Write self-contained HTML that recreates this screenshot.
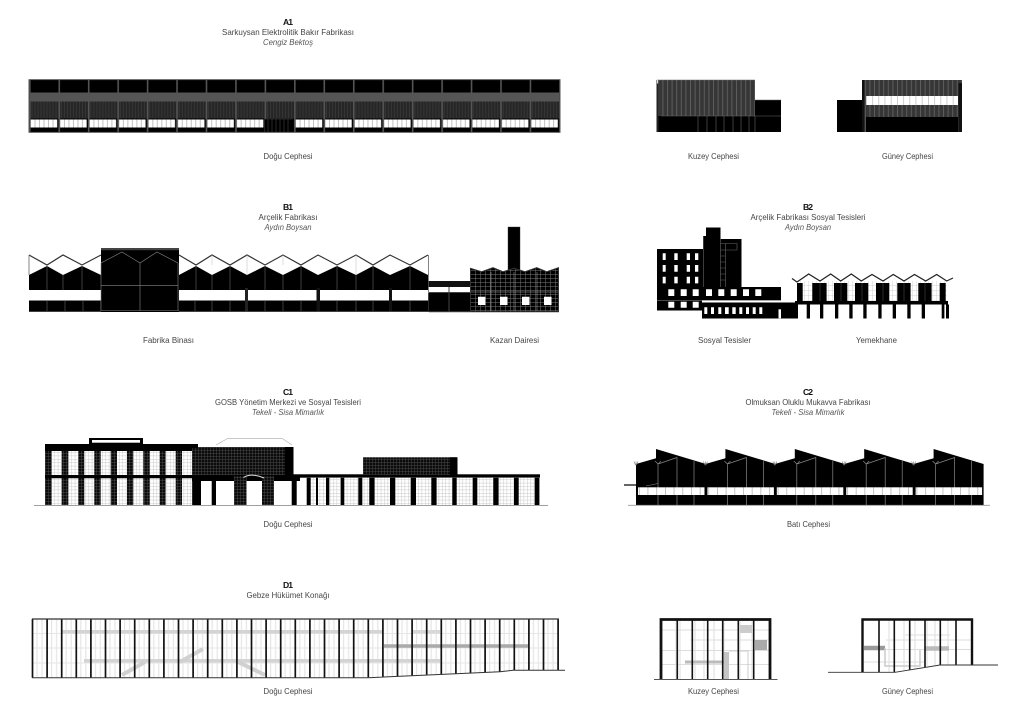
<!DOCTYPE html>
<html><head><meta charset="utf-8"><title>Cepheler</title>
<style>html,body{margin:0;padding:0;background:#fff}svg{display:block}
text{font-family:"Liberation Sans","DejaVu Sans",sans-serif;font-size:8.6px;fill:#444;text-anchor:middle}
.b{font-weight:bold;fill:#111}.i{font-style:italic;fill:#555}</style></head>
<body>
<svg xmlns="http://www.w3.org/2000/svg" width="1024" height="722" viewBox="0 0 1024 722">
<defs>
<pattern id="a1" patternUnits="userSpaceOnUse" x="29" y="80" width="29.45" height="52">
 <rect width="29.45" height="52" fill="#000"/>
 <rect y="12.5" width="29.45" height="9" fill="#555"/>
 <rect y="21.5" width="29.45" height="17" fill="#262626"/>
 <path d="M3 21.5V38M6 21.5V38M9 21.5V38M12 21.5V38M15 21.5V38M18 21.5V38M21 21.5V38M24 21.5V38M27 21.5V38" stroke="#3c3c3c" stroke-width=".7"/>
 <rect x="1.6" y="39.5" width="26.6" height="8" fill="#fff"/>
 <path d="M6 39.5v8M10.5 39.5v8M15 39.5v8M19.5 39.5v8M24 39.5v8" stroke="#999" stroke-width=".6"/>
 <rect x="0" width="1.6" height="52" fill="#555"/>
</pattern>
<pattern id="stripe" patternUnits="userSpaceOnUse" width="4.6" height="10"><rect width="4.6" height="10" fill="#363636"/><rect width="1" height="10" fill="#5e5e5e"/></pattern>
<pattern id="tick" patternUnits="userSpaceOnUse" x="866" width="6.2" height="10"><rect width="6.2" height="10" fill="#fff"/><rect width=".7" height="10" fill="#bbb"/></pattern>
<pattern id="brick" patternUnits="userSpaceOnUse" x="470" y="270" width="5" height="4"><rect width="5" height="4" fill="#000"/><path d="M0 .3H5M.3 0V4" stroke="#777" stroke-width=".5"/></pattern>
<pattern id="dgrid" patternUnits="userSpaceOnUse" width="3" height="3"><rect width="3" height="3" fill="#0b0b0b"/><path d="M0 .3H3M.3 0V3" stroke="#555" stroke-width=".4"/></pattern>
<pattern id="lgrid" patternUnits="userSpaceOnUse" width="3.4" height="3.4"><rect width="3.4" height="3.4" fill="#fff"/><path d="M0 .3H3.4M.3 0V3.4" stroke="#c4c4c4" stroke-width=".45"/></pattern>
<pattern id="yg" patternUnits="userSpaceOnUse" width="4" height="5"><rect width="4" height="5" fill="#fff"/><path d="M0 .3H4M.3 0V5" stroke="#ccc" stroke-width=".4"/></pattern>
<pattern id="c2tick" patternUnits="userSpaceOnUse" x="638" width="8.7" height="10"><rect width="8.7" height="10" fill="#fff"/><rect width=".7" height="10" fill="#aaa"/></pattern>
<pattern id="dv" patternUnits="userSpaceOnUse" x="32.5" width="14.6" height="10"><path d="M4.5 0V10M9.5 0V10" stroke="#e6e6e6" stroke-width="1.2"/></pattern>
<g id="saw">
 <polygon points="0,15 20,9.3 20,0 70,15 70,56 0,56" fill="#000"/>
 <path d="M22 15V56M19 12L22 15L25 12M22 15L41 8.5V56M58 12V56" stroke="#888" stroke-width=".7" fill="none"/>
 <path d="M0 16V12.5M-2 12.5L-.5 16H.5L2 12.5" stroke="#777" stroke-width=".6" fill="none"/>
 <rect x="2" y="38.3" width="66.5" height="7.7" fill="url(#c2tick)"/>
</g>
</defs>

<!-- text -->
<text x="288" y="25" class="b" textLength="10">A1</text>
<text x="288" y="35" textLength="132" lengthAdjust="spacingAndGlyphs">Sarkuysan Elektrolitik Bakır Fabrikası</text>
<text x="288" y="45" class="i" textLength="50" lengthAdjust="spacingAndGlyphs">Cengiz Bektoş</text>
<text x="288" y="159" textLength="49" lengthAdjust="spacingAndGlyphs">Doğu Cephesi</text>
<text x="713.5" y="159" textLength="51" lengthAdjust="spacingAndGlyphs">Kuzey Cephesi</text>
<text x="907.5" y="159" textLength="51" lengthAdjust="spacingAndGlyphs">Güney Cephesi</text>
<text x="288" y="210" class="b" textLength="10">B1</text>
<text x="288" y="220" textLength="59" lengthAdjust="spacingAndGlyphs">Arçelik Fabrikası</text>
<text x="288" y="230" class="i" textLength="47" lengthAdjust="spacingAndGlyphs">Aydın Boysan</text>
<text x="808" y="210" class="b" textLength="10">B2</text>
<text x="808" y="220" textLength="115" lengthAdjust="spacingAndGlyphs">Arçelik Fabrikası Sosyal Tesisleri</text>
<text x="808" y="230" class="i" textLength="46" lengthAdjust="spacingAndGlyphs">Aydın Boysan</text>
<text x="168.5" y="343" textLength="51" lengthAdjust="spacingAndGlyphs">Fabrika Binası</text>
<text x="514.5" y="343" textLength="49" lengthAdjust="spacingAndGlyphs">Kazan Dairesi</text>
<text x="724.5" y="343" textLength="53" lengthAdjust="spacingAndGlyphs">Sosyal Tesisler</text>
<text x="876.5" y="343" textLength="41" lengthAdjust="spacingAndGlyphs">Yemekhane</text>
<text x="288" y="395" class="b" textLength="10">C1</text>
<text x="288" y="405" textLength="146" lengthAdjust="spacingAndGlyphs">GOSB Yönetim Merkezi ve Sosyal Tesisleri</text>
<text x="288" y="415" class="i" textLength="72" lengthAdjust="spacingAndGlyphs">Tekeli - Sisa Mimarlık</text>
<text x="808" y="395" class="b" textLength="10">C2</text>
<text x="808" y="405" textLength="125" lengthAdjust="spacingAndGlyphs">Olmuksan Oluklu Mukavva Fabrikası</text>
<text x="808" y="415" class="i" textLength="73" lengthAdjust="spacingAndGlyphs">Tekeli - Sisa Mimarlık</text>
<text x="288" y="527" textLength="49" lengthAdjust="spacingAndGlyphs">Doğu Cephesi</text>
<text x="808.5" y="527" textLength="43" lengthAdjust="spacingAndGlyphs">Batı Cephesi</text>
<text x="288" y="588" class="b" textLength="10">D1</text>
<text x="288" y="598" textLength="83" lengthAdjust="spacingAndGlyphs">Gebze Hükümet Konağı</text>
<text x="288" y="694" textLength="49" lengthAdjust="spacingAndGlyphs">Doğu Cephesi</text>
<text x="713.5" y="694" textLength="51" lengthAdjust="spacingAndGlyphs">Kuzey Cephesi</text>
<text x="907.5" y="694" textLength="51" lengthAdjust="spacingAndGlyphs">Güney Cephesi</text>

<!-- A1 -->
<rect x="29" y="80" width="531" height="52" fill="url(#a1)"/>
<rect x="265" y="119" width="28" height="13" fill="#000"/>
<path d="M268 119v13M272 119v13M276 119v13M280 119v13M284 119v13M288 119v13M265 119H293" stroke="#444" stroke-width=".6"/>
<rect x="29" y="79.7" width="531" height="52.6" fill="none" stroke="#444" stroke-width=".9"/>

<!-- A Kuzey -->
<rect x="657" y="80" width="98" height="36" fill="url(#stripe)"/>
<rect x="657" y="116" width="124" height="16" fill="#000"/>
<rect x="755" y="100" width="26" height="32" fill="#000"/>
<path d="M657 80H755M755 100H781M661 116H781M698 116v16M707 116v16M716 116v16M724 116v16M733 116v16M741 116v16M749 116v16M755 116v16" stroke="#666" stroke-width=".6" fill="none"/>
<rect x="656.5" y="80" width="2" height="52" fill="#222"/>
<rect x="657" y="80" width="1.2" height="3.5" fill="#ddd"/>
<!-- A Guney -->
<rect x="837" y="100" width="26" height="32" fill="#000"/>
<rect x="863" y="80" width="99" height="52" fill="url(#stripe)"/>
<rect x="866" y="96" width="92" height="9" fill="url(#tick)"/>
<rect x="866" y="117" width="92" height="15" fill="#000"/>
<rect x="862" y="80" width="2.5" height="52" fill="#111"/>
<rect x="958.5" y="83" width="3.5" height="49" fill="#111"/>

<!-- B1 -->
<path d="M29 275L47 266L63 275L82 266L101 275V290H29ZM179 275L196 266L212 275L230 266L247 275L265 266L283 275L301 266L318 275L337 266L356 275L373 266L390 275L410 266L428 275V290H179Z" fill="#000"/>
<rect x="29" y="300.5" width="400" height="11" fill="#000"/>
<rect x="245" y="288" width="3" height="24" fill="#222"/><rect x="316.5" y="288" width="3.5" height="24" fill="#111"/><rect x="389" y="288" width="3" height="24" fill="#111"/>
<path d="M29 255L47 265L63 255L82 265L101 255M179 255L196 265L212 255L230 265L247 255L265 265L283 255L301 265L318 255L337 265L356 255L373 265L390 255L410 265L428 255" fill="none" stroke="#333" stroke-width="1.2"/>
<path d="M29 255V275M428.5 255V311" stroke="#666" stroke-width=".8"/>
<path d="M47 266V290M63 275V290M82 266V290M196 266V290M212 275V290M230 266V290M265 266V290M283 275V290M301 266V290M337 266V290M356 275V290M373 266V290M410 266V290M47 301V311M65 301V311M83 301V311M101 301V311M195 301V311M212 301V311M230 301V311M265 301V311M283 301V311M301 301V311M337 301V311M356 301V311M373 301V311M410 301V311" stroke="#777" stroke-width=".5"/>
<path d="M212 255V265M247 255V275M283 255V265M356 255V275" stroke="#bbb" stroke-width=".5"/>
<path d="M29 311.6H429" stroke="#555" stroke-width=".8"/>
<rect x="101" y="248" width="78" height="64" fill="#000"/>
<path d="M101 263L122 252L140 263L157 252L178 263M140 263V311M101 285.7H178M101 263V311M178 263V311" fill="none" stroke="#888" stroke-width=".6"/>
<rect x="101" y="248" width="78" height="2.2" fill="#444"/>
<path d="M101 310.7H179" stroke="#666" stroke-width=".7"/>
<!-- connector -->
<rect x="428.5" y="281" width="42" height="6" fill="#111"/>
<rect x="428.5" y="293" width="42" height="18.5" fill="#000"/>
<path d="M449 287V312M429 292.5H470M429 311.7H470" stroke="#444" stroke-width="1"/>
<!-- kazan -->
<rect x="508" y="227" width="12" height="43" fill="#000" stroke="#333" stroke-width=".4"/>
<polygon points="470.5,268.3 481.7,271.7 493,267.7 503,271.7 514,268.3 525,271.7 536.7,267.7 546.7,271.7 558.5,267.7 558.5,311.7 470.5,311.7" fill="url(#brick)" stroke="#333" stroke-width="1"/>
<path d="M470.5 292H558.5M491 272V311M514 272V311M537 272V311" stroke="#aaa" stroke-width=".5"/>
<path d="M478 296.7h7.5v8.3h-7.5zM500 296.7h7.5v8.3h-7.5zM522 296.7h7.5v8.3h-7.5zM544 296.7h7.5v8.3h-7.5z" fill="#fff"/>

<!-- B2 -->
<rect x="657" y="249" width="46" height="38" fill="#000"/>
<rect x="703" y="236" width="14" height="52" fill="#000"/>
<rect x="706" y="227.5" width="14.5" height="60" fill="#000"/>
<rect x="720.5" y="239" width="21" height="48" fill="#000"/>
<path d="M703.5 236V288M720.5 239V288M720.5 243.5H737V250H720.5M720.5 250V287M720.5 256h5M720.5 262h5M720.5 268h5M720.5 274h5M720.5 280h5M725.5 243.5V287" stroke="#666" stroke-width=".6" fill="none"/>
<path d="M662.7 253.3h3v6.7h-3zM674.3 253.3h3.4v6.7h-3.4zM686.7 253.3h3.3v6.7h-3.3zM695 253.3h3.3v6.7H695zM662.7 265h3v6.7h-3zM674.3 265h3.4v6.7h-3.4zM686.7 265h3.3v6.7h-3.3zM695 265h3.3v6.7H695zM662.7 276.7h3v6.7h-3zM674.3 276.7h3.4v6.7h-3.4zM686.7 276.7h3.3v6.7h-3.3zM695 276.7h3.3v6.7H695z" fill="#fff"/>
<rect x="657" y="287" width="124" height="13" fill="#000"/>
<rect x="657" y="300.5" width="45" height="10" fill="#000"/>
<path d="M657 300.3H781" stroke="#777" stroke-width=".6"/>
<path d="M668.3 289.3h6v6.7h-6zM680.7 289.3h6v6.7h-6zM692.7 289.3h6v6.7h-6zM706 289.3h6v6.7h-6zM718.3 289.3h6v6.7h-6zM730.7 289.3h6v6.7h-6zM743 289.3h6v6.7h-6zM755.3 289.3h6v6.7h-6zM668.3 301.7h6v6h-6zM680.7 301.7h6v6h-6zM692.7 301.7h6v6h-6z" fill="#fff"/>
<rect x="702" y="302.5" width="96" height="16" fill="#000"/>
<path d="M704.3 307.3h3v6.7h-3zM711 307.3h3v6.7h-3zM718.3 307.3h3v6.7h-3zM725 307.3h3.7v6.7H725zM732.3 307.3h3.4v6.7h-3.4zM739.3 307.3h3v6.7h-3zM746 307.3h3v6.7h-3zM752.7 307.3h3v6.7h-3zM759.3 307.3h3v6.7h-3z" fill="#fff"/>
<rect x="778.5" y="309.3" width="6.5" height="9" fill="#fff"/>
<!-- yemekhane -->
<rect x="797" y="281" width="150" height="20" fill="url(#yg)"/>
<path d="M792 278.5L797 282L808.7 274L820 281L830.7 274L840.7 281L851.3 274L861.3 281L872 274.5L883 281L893.3 274.5L904 281L914.5 274.5L925.7 281L936.7 274.5L946.7 281L953 278" fill="none" stroke="#222" stroke-width="1.2"/>
<path d="M797 283h5.7v18H797zM812.3 283h14.3v18h-14.3zM834 283h13.3v18H834zM855 283h13.3v18H855zM876 283h13.3v18H876zM897.3 283h13.3v18h-13.3zM918.3 283h13.3v18h-13.3zM939.7 283h6v18h-6z" fill="#000"/>
<path d="M820 283V301M841 283V301M862 283V301M883 283V301M904 283V301M925 283V301" stroke="#555" stroke-width=".5"/>
<rect x="795" y="301" width="153" height="3.5" fill="#000"/>
<path d="M806.7 304.5h3.3v14h-3.3zM820 304.5h3.3v14H820zM835 304.5h3.3v14H835zM849.3 304.5h3.3v14h-3.3zM863.3 304.5h3.3v14h-3.3zM878.3 304.5h3.3v14h-3.3zM892.7 304.5h3.3v14h-3.3zM907.3 304.5h3.3v14h-3.3zM921.7 304.5h3.3v14h-3.3zM941.7 304.5h2.7v14h-2.7zM946 304.5h3v14h-3z" fill="#000"/>
<rect x="781" y="302.5" width="16" height="16" fill="#000"/>

<!-- C1 -->
<rect x="89" y="438" width="54" height="7" fill="#000"/>
<rect x="92" y="440" width="48" height="2.7" fill="#fff"/>
<rect x="45" y="444" width="153" height="61" fill="url(#dgrid)"/>
<rect x="45" y="444" width="153" height="7" fill="#000"/>
<rect x="45" y="475" width="153" height="3.3" fill="#000"/>
<path d="M51.7 451h10v24h-10zM68.3 451h10v24h-10zM84.3 451h10v24h-10zM100.7 451h10v24h-10zM117 451h10v24h-10zM133.3 451h10v24h-10zM149.7 451h10v24h-10zM165.7 451h10v24h-10zM182 451h10v24h-10zM51.7 478.3h10V505h-10zM68.3 478.3h10V505h-10zM84.3 478.3h10V505h-10zM100.7 478.3h10V505h-10zM117 478.3h10V505h-10zM133.3 478.3h10V505h-10zM149.7 478.3h10V505h-10zM165.7 478.3h10V505h-10zM182 478.3h10V505h-10z" fill="url(#lgrid)"/>
<rect x="192" y="447" width="101.5" height="28" fill="url(#dgrid)"/>
<rect x="285" y="447" width="8.5" height="28" fill="#000"/>
<path d="M216 445L228 438.3H282L292 445" fill="none" stroke="#aaa" stroke-width=".6"/>
<rect x="192" y="444" width="6" height="4" fill="#000"/>
<rect x="192" y="475" width="108" height="6" fill="#000"/>
<path d="M192.7 481h8.3v24h-8.3zM211.7 481h4.3v24h-4.3zM291.7 481h5v24h-5z" fill="#000"/>
<rect x="234" y="476" width="12.7" height="29" fill="url(#dgrid)"/>
<rect x="262" y="476" width="12" height="29" fill="url(#dgrid)"/>
<rect x="246.7" y="481" width="15.3" height="24" fill="#fff"/>
<path d="M243.5 477.5Q251 472.5 264 478" fill="none" stroke="#ddd" stroke-width="1"/>
<rect x="290" y="474.3" width="250" height="3.4" fill="#000"/>
<rect x="363" y="457.3" width="94" height="17.5" fill="url(#dgrid)"/>
<rect x="450" y="457.3" width="7.5" height="17.5" fill="#000"/>
<rect x="306.7" y="477.7" width="233.3" height="27.3" fill="url(#lgrid)"/>
<path d="M306.7 477.7h4v27.3h-4zM316 477.7h2v27.3h-2zM326 477.7h3.3v27.3H326zM340.7 477.7h3.6v27.3h-3.6zM358.3 477.7h4v27.3h-4zM369.3 477.7h5.3v27.3h-5.3zM390 477.7h5.3v27.3H390zM410.7 477.7h5.3v27.3h-5.3zM431.3 477.7h5.3v27.3h-5.3zM452.3 477.7h4.4v27.3h-4.4zM472.7 477.7h4.6v27.3h-4.6zM493.3 477.7h5.3v27.3h-5.3zM514 477.7h4.7v27.3H514zM534.7 477.7h4.7v27.3h-4.7z" fill="#000"/>
<path d="M34 505.3H548" stroke="#666" stroke-width=".7"/>

<!-- C2 -->
<use href="#saw" x="636" y="449"/>
<use href="#saw" x="705.4" y="449"/>
<use href="#saw" x="774.8" y="449"/>
<use href="#saw" x="844.2" y="449"/>
<use href="#saw" x="913.6" y="449"/>
<path d="M624 485H636" stroke="#000" stroke-width="1.2"/>
<path d="M646 486L658 483.5" stroke="#888" stroke-width=".6"/>
<path d="M628 505.3H990" stroke="#999" stroke-width=".8"/>

<!-- D1 -->
<rect x="32.5" y="619" width="526" height="51" fill="url(#dv)"/>
<polygon points="32.5,670 558,670 500,671.7 368,677.7 32.5,677.7" fill="url(#dv)"/>
<path d="M32 633.5H558M32 648H558M32 663H558" stroke="#e6e6e6" stroke-width="1"/>
<path d="M62 631.7H383M84 660.7H440" stroke="#d4d4d4" stroke-width="3.5"/>
<path d="M413 631.7H440" stroke="#d8d8d8" stroke-width="3.5"/>
<path d="M384 646H528" stroke="#aaa" stroke-width="3.5"/>
<path d="M122 675L145 662M180 662L203 649M238 662L265 675" stroke="#d0d0d0" stroke-width="4"/>
<path d="M32.5 619V677.7M47.1 619V677.7M61.7 619V677.7M76.3 619V677.7M90.9 619V677.7M105.5 619V677.7M120.1 619V677.7M134.7 619V677.7M149.3 619V677.7M163.9 619V677.7M178.5 619V677.7M193.1 619V677.7M207.7 619V677.7M222.3 619V677.7M236.9 619V677.7M251.5 619V677.7M266.1 619V677.7M280.7 619V677.7M295.3 619V677.7M309.9 619V677.7M324.5 619V677.7M339.1 619V677.7M353.7 619V677.7M368.3 619V677.2M382.9 619V676.6M397.5 619V676M412.1 619V675.4M426.7 619V674.8M441.3 619V674.2M455.9 619V673.6M470.5 619V673M485.1 619V672.3M499.7 619V671.7M514.3 619V670.3M528.9 619V670.3M543.5 619V670.3M558.1 619V670.3" stroke="#111" stroke-width="1.7"/>
<path d="M32 619H558.9" stroke="#333" stroke-width="1.2"/>
<path d="M32 677.7H368L500 671.7L513 670.3H565" fill="none" stroke="#333" stroke-width="1"/>

<!-- D Kuzey -->
<path d="M676 619V679M680 619V679M695 619V679M704 619V679M690 640H770M660 650.5H770M660 664.5H770M660 630H770M714 619V679M724 619V679M740 619V679M752 619V679" stroke="#ddd" stroke-width="1"/>
<path d="M685 662H724" stroke="#bbb" stroke-width="3"/>
<rect x="740" y="625" width="12" height="8" fill="#ccc"/>
<rect x="755" y="640" width="12" height="10" fill="#aaa"/>
<rect x="724" y="652" width="5" height="27" fill="#c4c4c4"/>
<path d="M729 651H748V679" fill="none" stroke="#ccc" stroke-width="1"/>
<path d="M677.3 619V679.3M692.3 619V679.3M707.7 619V679.3M722.7 619V679.3M738.3 619V679.3M753.7 619V679.3" stroke="#111" stroke-width="1.6"/>
<path d="M661 680V619.5H770V680" fill="none" stroke="#111" stroke-width="2.8"/>
<path d="M654 679.5H777.5" stroke="#555" stroke-width=".9"/>

<!-- D Guney -->
<path d="M889 619V672M894 619V672M904 619V670M915 619V668M927 619V666M935 619V665M948 619V665M886 640H972M862 649.5H972M862 662H925M905 635H950" stroke="#ddd" stroke-width="1"/>
<path d="M864 648H885" stroke="#999" stroke-width="4.5"/>
<path d="M925 648.5H949" stroke="#bbb" stroke-width="4.5"/>
<path d="M885 648V666H920V650" fill="none" stroke="#ccc" stroke-width="1.5"/>
<path d="M879 619V672.3M894.3 619V672.3M909.7 619V669.8M925 619V667.3M940.3 619V665M956 619V665" stroke="#111" stroke-width="1.6"/>
<path d="M862.5 672.3V619.5H972V665" fill="none" stroke="#111" stroke-width="2.4"/>
<path d="M828 672.3H895L940 665H998" fill="none" stroke="#333" stroke-width=".9"/>
</svg>
</body></html>
